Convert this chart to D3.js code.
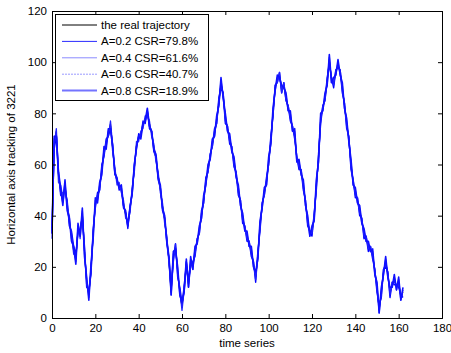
<!DOCTYPE html>
<html>
<head>
<meta charset="utf-8">
<script src="https://cdn.jsdelivr.net/npm/d3@7"></script>
<style>
  body { margin: 0; background: #fff; }
  text { font-family: Arial, "Liberation Sans", sans-serif; }
</style>
</head>
<body>
<svg id="chart" width="451" height="353"></svg>
<script>
// tick labels
const xTicks = [0, 20, 40, 60, 80, 100, 120, 140, 160, 180]
const yTicks = [0, 20, 40, 60, 80, 100, 120]

// the real trajectory (one value per time step)
const realTrack = [33,69,73,55,50,46,52,44,38,32,
  26,23,35,33,41,26,14,9,19,33,
  45,47,51,58,65,68,72,76,66,58,
  53,52,50,45,40,37,42,50,58,68,
  70,72,75,78,80,76,72,67,62,56,
  50,44,38,31,22,10,24,28,18,10,
  4,12,21,13,22,20,26,30,34,40,
  46,53,58,63,68,72,77,84,92,87,
  78,74,70,66,61,56,50,45,39,35,
  32,29,26,21,16,24,36,44,49,53,
  61,69,80,90,93,95,89,91,86,82,
  79,74,72,62,60,57,52,45,38,33,
  34,39,52,62,78,82,86,92,101,93,
  92,96,99,96,90,83,76,70,60,53,
  49,46,42,38,33,31,28,27,25,18,
  12,3,10,18,22,17,10,13,15,12,
  14,8,10]

const trackA02 = [35,66,71,57,48,49,50,46,36,34,
  28,25,33,35,39,28,12,11,17,35,
  43,49,50,60,63,70,71,74,68,56,
  55,50,51,43,42,35,44,48,60,66,
  72,71,77,76,81,74,73,65,63,54,
  51,42,39,29,23,12,22,29,16,12,
  6,10,22,15,20,22,24,31,33,42,
  45,55,57,64,67,74,76,86,90,88,
  76,75,68,67,59,57,48,46,37,36,
  30,30,24,22,14,26,34,45,48,55,
  60,71,79,91,92,96,88,92,85,83,
  77,75,70,63,58,58,50,46,36,34,
  32,41,50,64,76,83,85,94,99,94,
  90,97,98,97,88,84,74,71,58,54,
  47,47,40,39,31,32,26,28,23,19,
  10,5,8,19,20,18,8,14,13,13,
  12,9,8]

const trackA04 = [31,70,72,53,52,47,53,43,40,31,
  27,22,36,31,42,25,15,8,20,32,
  46,46,52,57,66,67,73,75,65,59,
  52,53,49,46,39,38,41,51,57,69,
  69,73,74,79,79,77,71,68,61,57,
  49,45,37,32,21,11,25,27,19,9,
  5,13,20,14,23,19,27,29,35,39,
  47,52,59,62,69,71,78,83,93,86,
  79,73,71,65,62,55,51,44,40,34,
  33,28,27,20,17,23,37,43,50,52,
  62,68,81,89,94,94,90,90,87,81,
  80,73,73,61,61,56,53,44,39,32,
  35,38,53,61,79,81,87,91,102,92,
  93,95,100,95,91,82,77,69,61,52,
  50,45,43,37,34,30,29,26,26,17,
  13,2,11,17,23,16,11,12,16,11,
  15,7,11]

const trackA06 = [34,67,74,56,49,45,51,45,37,33,
  25,24,34,34,40,27,13,10,18,34,
  44,48,50,59,64,69,71,77,67,57,
  54,51,50,44,41,36,43,49,59,67,
  71,72,76,77,81,75,73,66,63,55,
  51,43,39,30,23,9,23,29,17,11,
  3,11,22,12,21,21,25,31,33,41,
  45,54,57,64,67,73,76,85,91,88,
  77,75,69,67,60,57,49,46,38,36,
  31,30,25,22,15,25,35,45,48,54,
  60,70,79,91,92,96,88,92,85,83,
  78,75,71,63,59,58,51,46,37,34,
  33,40,51,63,77,83,85,93,100,94,
  91,97,98,97,89,84,75,71,59,54,
  48,47,41,39,32,32,27,28,24,19,
  11,4,9,19,21,18,9,14,14,13,
  13,9,9]

const trackA08 = [33,71,71,57,51,44,54,42,39,30,
  28,21,37,32,43,24,16,7,21,31,
  47,45,53,56,67,66,74,74,67,57,
  54,51,52,44,41,36,43,49,60,67,
  71,70,76,77,82,75,73,66,64,55,
  52,43,40,30,24,9,26,27,20,9,
  6,11,23,12,24,19,28,29,36,39,
  48,52,60,62,70,71,79,83,94,86,
  80,73,72,65,63,55,52,44,41,34,
  34,28,28,20,18,23,38,43,51,52,
  63,68,82,89,95,94,91,90,88,81,
  81,73,74,61,62,56,54,44,40,32,
  36,38,54,61,80,81,88,91,103,92,
  94,95,101,95,92,82,78,69,62,52,
  51,45,44,37,35,30,30,26,27,17,
  14,2,12,17,24,16,12,12,17,11,
  16,7,12]

const seriesNames = ['the real trajectory', 'A=0.2 CSR=79.8%', 'A=0.4 CSR=61.6%', 'A=0.6 CSR=40.7%', 'A=0.8 CSR=18.9%']
const seriesValues = [realTrack, trackA02, trackA04, trackA06, trackA08]

const margin = { top: 11, right: 9, bottom: 35, left: 52 }
const width = 451 - margin.left - margin.right
const height = 353 - margin.top - margin.bottom

const svg = d3.select('#chart')

// x scale
const xscale = d3.scaleLinear()
  .domain([0, 180])
  .range([margin.left, margin.left + width])
// y scale
const yscale = d3.scaleLinear()
  .domain([0, 120])
  .range([margin.top + height, margin.top])

// legend line styles for each series
const styles = [
  { color: '#000000', w: 1, dash: null },
  { color: '#2a2aff', w: 1, dash: null },
  { color: '#8a8aff', w: 1, dash: null },
  { color: '#9a9aff', w: 1, dash: '2,1' },
  { color: '#7474ff', w: 2, dash: null }
]
const plotColors = ['#000000', '#0000ff', '#3030ff', '#2020ff', '#1010ff']
const plotWidths = [1, 1.4, 1.3, 1.3, 1.6]

// Make the lines
const line = d3.line()
  .x((d, i) => xscale(i))
  .y(d => yscale(d))

const lineGroup = svg.append('g')
lineGroup.selectAll('path')
  .data(seriesValues)
  .enter()
  .append('path')
  .attr('d', d => line(d))
  .attr('fill', 'none')
  .attr('stroke', (d, i) => plotColors[i])
  .attr('stroke-width', (d, i) => plotWidths[i])
  .attr('stroke-linejoin', 'round')

// axes, ticks pointing inwards like matlab
const bottomAxis = d3.axisBottom(xscale).tickValues(xTicks).tickSize(-4).tickPadding(6)
svg.append('g')
  .attr('transform', `translate(0, ${margin.top + height})`)
  .call(bottomAxis)
const topAxis = d3.axisTop(xscale).tickValues(xTicks).tickSize(-4).tickFormat('')
svg.append('g')
  .attr('transform', `translate(0, ${margin.top})`)
  .call(topAxis)
const leftAxis = d3.axisLeft(yscale).tickValues(yTicks).tickSize(-4).tickPadding(5)
svg.append('g')
  .attr('transform', `translate(${margin.left}, 0)`)
  .call(leftAxis)
const rightAxis = d3.axisRight(yscale).tickValues(yTicks).tickSize(-4).tickFormat('')
svg.append('g')
  .attr('transform', `translate(${margin.left + width}, 0)`)
  .call(rightAxis)

svg.selectAll('.domain').attr('stroke', '#000')
svg.selectAll('.tick line').attr('stroke', '#000')
svg.selectAll('.tick text')
  .attr('font-size', 11.5)
  .attr('font-family', 'Arial, "Liberation Sans", sans-serif')
  .attr('fill', '#000')

// axis labels
svg.append('text')
  .attr('x', margin.left + width / 2)
  .attr('y', 347)
  .attr('text-anchor', 'middle')
  .attr('font-size', 11.5)
  .text('time series')
svg.append('text')
  .attr('transform', `translate(15, ${margin.top + height / 2}) rotate(-90)`)
  .attr('text-anchor', 'middle')
  .attr('font-size', 11.5)
  .text('Horizontal axis tracking of 3221')

// legend
const legend = svg.append('g')
legend.append('rect')
  .attr('x', 55.5)
  .attr('y', 14.5)
  .attr('width', 153)
  .attr('height', 86)
  .attr('fill', '#fff')
  .attr('stroke', '#000')
const legendItems = legend.selectAll('g.item')
  .data(seriesNames)
  .enter()
  .append('g')
  .attr('class', 'item')
  .attr('transform', (d, i) => `translate(0, ${25 + i * 16.4})`)
legendItems.append('line')
  .attr('x1', 62)
  .attr('x2', 97)
  .attr('y1', 0)
  .attr('y2', 0)
  .attr('stroke', (d, i) => styles[i].color)
  .attr('stroke-width', (d, i) => styles[i].w)
  .attr('stroke-dasharray', (d, i) => styles[i].dash)
legendItems.append('text')
  .attr('x', 101)
  .attr('y', 4)
  .attr('font-size', 11.5)
  .text(d => d)
</script>
</body>
</html>
